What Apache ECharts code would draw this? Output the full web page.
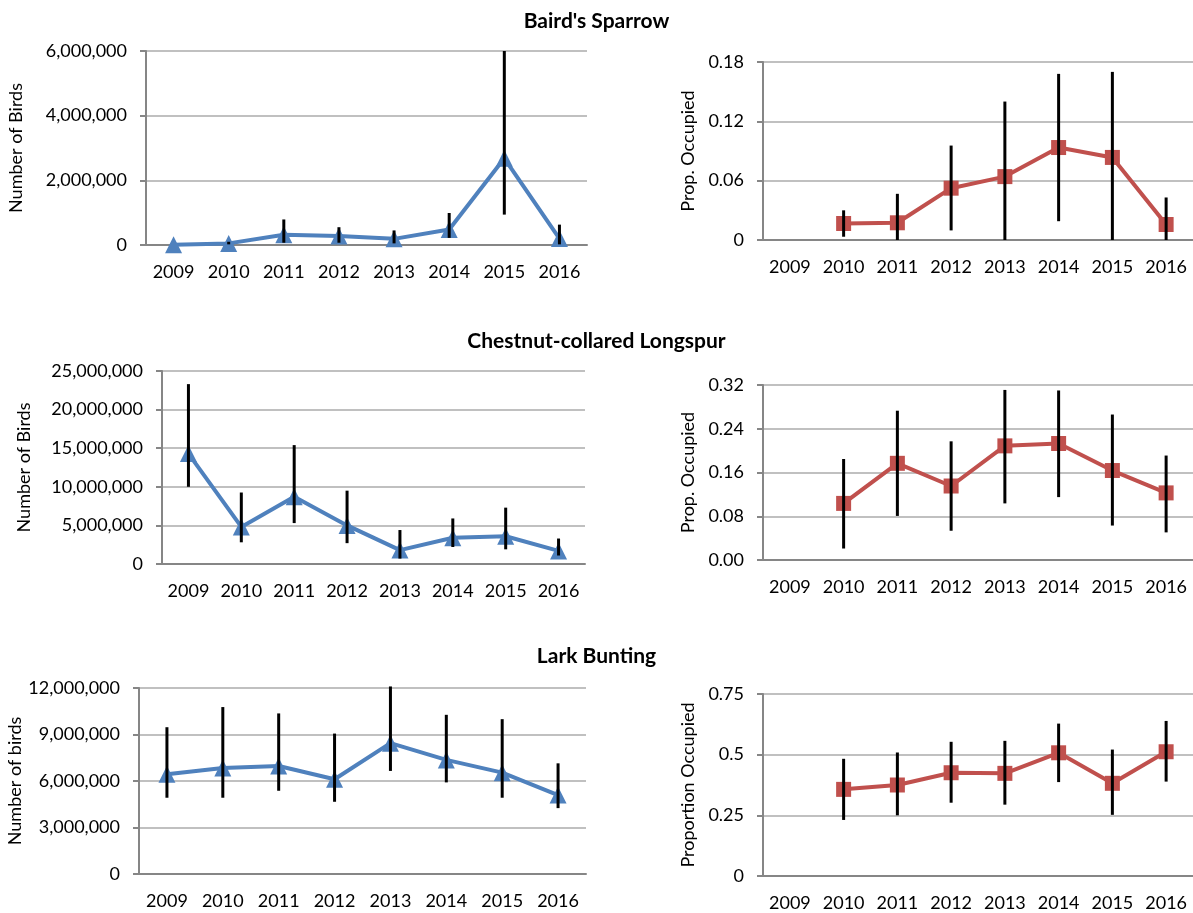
<!DOCTYPE html>
<html>
<head>
<meta charset="utf-8">
<script src="https://cdn.jsdelivr.net/npm/echarts@6/dist/echarts.min.js"></script>
<style>
  html, body { margin: 0; padding: 0; background: #fff; }
  #chart { width: 1193px; height: 913px; }
</style>
</head>
<body>
<div id="chart"></div>
<script>
// ---------------- DATA ----------------
const years = ['2009', '2010', '2011', '2012', '2013', '2014', '2015', '2016'];

const titles = ["Baird's Sparrow", 'Chestnut-collared Longspur', 'Lark Bunting'];

// Baird's Sparrow
const bairdCount = [10000, 50000, 320000, 280000, 190000, 480000, 2680000, 200000];
const bairdCountLow = [null, 20000, 70000, 70000, 50000, 220000, 940000, 20000];
const bairdCountHigh = [null, 100000, 790000, 550000, 450000, 990000, 6000000, 630000];
const bairdOcc = [null, 0.0167, 0.0174, 0.0524, 0.0641, 0.0935, 0.0835, 0.0157];
const bairdOccLow = [null, 0.0033, 0, 0.0097, 0, 0.019, 0, 0];
const bairdOccHigh = [null, 0.030, 0.0467, 0.0955, 0.140, 0.168, 0.170, 0.043];

// Chestnut-collared Longspur
const cclCount = [14300000, 4800000, 8700000, 5000000, 1800000, 3400000, 3600000, 1700000];
const cclCountLow = [10000000, 2810000, 5300000, 2700000, 700000, 2200000, 1900000, 1100000];
const cclCountHigh = [23300000, 9260000, 15400000, 9500000, 4400000, 5900000, 7300000, 3300000];
const cclOcc = [null, 0.1035, 0.1768, 0.1353, 0.2087, 0.213, 0.1636, 0.1227];
const cclOccLow = [null, 0.021, 0.0806, 0.0535, 0.1035, 0.115, 0.063, 0.0505];
const cclOccHigh = [null, 0.1847, 0.273, 0.217, 0.311, 0.310, 0.266, 0.191];

// Lark Bunting
const labuCount = [6430000, 6840000, 6970000, 6110000, 8440000, 7360000, 6540000, 5090000];
const labuCountLow = [4920000, 4920000, 5370000, 4660000, 6650000, 5910000, 4920000, 4250000];
const labuCountHigh = [9470000, 10770000, 10360000, 9060000, 12100000, 10270000, 9990000, 7140000];
const labuOcc = [null, 0.357, 0.375, 0.4255, 0.423, 0.5077, 0.382, 0.512];
const labuOccLow = [null, 0.231, 0.250, 0.302, 0.294, 0.387, 0.252, 0.389];
const labuOccHigh = [null, 0.483, 0.509, 0.553, 0.557, 0.628, 0.521, 0.639];

// Axis settings (tick labels)
const countAxes = [
  { max: 6000000, interval: 2000000, name: 'Number of Birds' },
  { max: 25000000, interval: 5000000, name: 'Number of Birds' },
  { max: 12000000, interval: 3000000, name: 'Number of birds' }
];
const occAxes = [
  { max: 0.18, interval: 0.06, name: 'Prop. Occupied', decimals: null },
  { max: 0.32, interval: 0.08, name: 'Prop. Occupied', decimals: 2 },
  { max: 0.75, interval: 0.25, name: 'Proportion Occupied', decimals: null }
];

// ---------------- LAYOUT ----------------
const FONT = 'Lato';
const gridsPos = [
  { left: 146, top: 51, width: 441, height: 194, nameGap: 121 },
  { left: 763, top: 62, width: 430, height: 178, nameGap: 66 },
  { left: 162, top: 371, width: 423, height: 193, nameGap: 129 },
  { left: 763, top: 385, width: 430, height: 175, nameGap: 66 },
  { left: 139, top: 688, width: 447, height: 186, nameGap: 114 },
  { left: 763, top: 694, width: 430, height: 182, nameGap: 66 }
];
const titleTops = [6, 326, 641];

const BLUE = '#4F81BD';
const RED = '#C0504D';

const countSets = [
  [bairdCount, bairdCountLow, bairdCountHigh],
  [cclCount, cclCountLow, cclCountHigh],
  [labuCount, labuCountLow, labuCountHigh]
];
const occSets = [
  [bairdOcc, bairdOccLow, bairdOccHigh],
  [cclOcc, cclOccLow, cclOccHigh],
  [labuOcc, labuOccLow, labuOccHigh]
];

function errData(low, high) {
  const out = [];
  for (let i = 0; i < low.length; i++) {
    if (low[i] == null || high[i] == null) continue;
    out.push([i, low[i], high[i]]);
  }
  return out;
}

function renderErr(params, api) {
  const x = api.value(0);
  const lo = api.coord([x, api.value(1)]);
  const hi = api.coord([x, api.value(2)]);
  return {
    type: 'line',
    shape: { x1: lo[0], y1: lo[1], x2: hi[0], y2: hi[1] },
    style: { stroke: '#000', lineWidth: 3 }
  };
}

const grid = [], xAxis = [], yAxis = [], series = [], title = [];

titles.forEach((t, i) => {
  title.push({
    text: t, left: 'center', top: titleTops[i],
    textStyle: { fontFamily: FONT, fontWeight: 'bold', fontSize: 21, color: '#000' }
  });
});

for (let i = 0; i < 6; i++) {
  const g = gridsPos[i];
  grid.push({ left: g.left, top: g.top, width: g.width, height: g.height, containLabel: false });
  xAxis.push({
    type: 'category', gridIndex: i, data: years, boundaryGap: true,
    axisLine: { lineStyle: { color: '#868686', width: 2 } },
    axisTick: { show: false },
    axisLabel: { fontFamily: FONT, fontSize: 18, color: '#000', margin: 18, interval: 0, hideOverlap: false },
    splitLine: { show: false }
  });
  const row = Math.floor(i / 2);
  const isCount = i % 2 === 0;
  const ax = isCount ? countAxes[row] : occAxes[row];
  yAxis.push({
    type: 'value', gridIndex: i, min: 0, max: ax.max, interval: ax.interval,
    name: ax.name, nameLocation: 'middle', nameGap: g.nameGap,
    nameTextStyle: { fontFamily: FONT, fontSize: 18, color: '#000' },
    axisLine: { show: true, lineStyle: { color: '#868686', width: 2 } },
    axisTick: { show: true, length: 6, lineStyle: { color: '#868686', width: 2 } },
    axisLabel: {
      fontFamily: FONT, fontSize: 18, color: '#000', margin: 19,
      formatter: (v) => {
        if (isCount) return Math.round(v).toLocaleString('en-US');
        if (ax.decimals != null) return v.toFixed(ax.decimals);
        return String(parseFloat(v.toFixed(4)));
      }
    },
    splitLine: { show: true, lineStyle: { color: '#c0c0c0', width: 2 } }
  });

  const set = isCount ? countSets[row] : occSets[row];
  series.push({
    type: 'line', xAxisIndex: i, yAxisIndex: i, data: set[0],
    connectNulls: false,
    symbol: isCount ? 'triangle' : 'rect',
    symbolSize: isCount ? 17 : 15,
    lineStyle: { color: isCount ? BLUE : RED, width: 4 },
    itemStyle: { color: isCount ? BLUE : RED },
    z: 2, animation: false
  });
  series.push({
    type: 'custom', xAxisIndex: i, yAxisIndex: i,
    data: errData(set[1], set[2]),
    renderItem: renderErr,
    encode: { x: 0, y: [1, 2] },
    z: 5, animation: false, silent: true, clip: false
  });
}

const chart = echarts.init(document.getElementById('chart'), null, { renderer: 'canvas' });
chart.setOption({ animation: false, backgroundColor: '#fff', title, grid, xAxis, yAxis, series });
</script>
</body>
</html>
